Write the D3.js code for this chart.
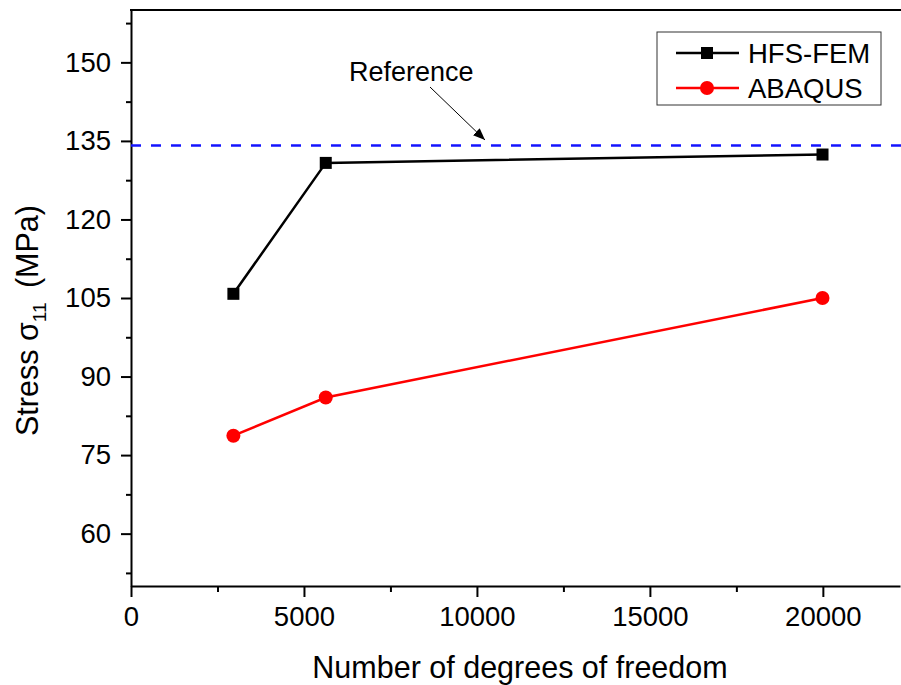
<!DOCTYPE html>
<html>
<head>
<meta charset="utf-8">
<script src="https://cdn.jsdelivr.net/npm/d3@7"></script>
<style>
  body { margin: 0; background: #fff; }
  svg { display: block; font-family: "Liberation Sans", Arial, sans-serif; }
  .axis path, .axis line { stroke: #000; stroke-width: 2; }
  .axis text { font-size: 27.5px; fill: #000; font-family: "Liberation Sans", Arial, sans-serif; }
</style>
</head>
<body>
<div id="chart"></div>
<script>
// --- data ---
const dof        = [2960, 5630, 19990];
const hfsFem     = [105.8, 130.8, 132.4];
const abaqus     = [78.7, 86.0, 105.0];
const refStress  = 134.1;
const xTicks     = [0, 5000, 10000, 15000, 20000];
const xMinor     = [2500, 7500, 12500, 17500];
const yTicks     = [60, 75, 90, 105, 120, 135, 150];
const yMinor     = [52.5, 67.5, 82.5, 97.5, 112.5, 127.5, 142.5, 157.5];

const W = 901, H = 685;
const m = {left:131, top:10, right:1, bottom:99};

const svg = d3.select("#chart").append("svg").attr("width", W).attr("height", H);

const x = d3.scaleLinear().domain([0, 22230]).range([m.left, W - m.right]);
const y = d3.scaleLinear().domain([50, 160]).range([H - m.bottom, m.top]);

/* axes */
const xAxis = svg.append("g").attr("class","axis").attr("transform",`translate(0,${H-m.bottom})`)
  .call(d3.axisBottom(x).tickValues(xTicks).tickFormat(d3.format("d"))
    .tickSize(11).tickSizeOuter(0).tickPadding(9));
xAxis.selectAll("text").attr("dy","0.71em");
svg.append("g").attr("class","axis").attr("transform",`translate(0,${H-m.bottom})`)
  .call(d3.axisBottom(x).tickValues(xMinor).tickSize(6).tickFormat("").tickSizeOuter(0))
  .select("path").remove();

svg.append("g").attr("class","axis").attr("transform",`translate(${m.left},0)`)
  .call(d3.axisLeft(y).tickValues(yTicks).tickFormat(d3.format("d"))
    .tickSize(10).tickSizeOuter(0).tickPadding(10));
svg.append("g").attr("class","axis").attr("transform",`translate(${m.left},0)`)
  .call(d3.axisLeft(y).tickValues(yMinor).tickSize(5).tickFormat("").tickSizeOuter(0))
  .select("path").remove();

/* top frame line */
svg.append("line").attr("x1", m.left - 1).attr("x2", W).attr("y1", m.top).attr("y2", m.top)
  .attr("stroke","#000").attr("stroke-width",2);

/* reference line */
svg.append("line").attr("x1", x(0)).attr("x2", W).attr("y1", y(refStress)).attr("y2", y(refStress))
  .attr("stroke","#1414ff").attr("stroke-width",2.5).attr("stroke-dasharray","10,10");

/* series */
const line = d3.line().x(d => x(d[0])).y(d => y(d[1]));
const hfsPts = dof.map((d,i) => [d, hfsFem[i]]);
const abqPts = dof.map((d,i) => [d, abaqus[i]]);

svg.append("path").datum(hfsPts).attr("d", line).attr("fill","none")
  .attr("stroke","#000").attr("stroke-width",2.5);
svg.append("path").datum(abqPts).attr("d", line).attr("fill","none")
  .attr("stroke","#ff0000").attr("stroke-width",2.5);

svg.selectAll(".sq").data(hfsPts).enter().append("rect")
  .attr("x", d => x(d[0]) - 6).attr("y", d => y(d[1]) - 6)
  .attr("width",12).attr("height",12).attr("fill","#000");
svg.selectAll(".ci").data(abqPts).enter().append("circle")
  .attr("cx", d => x(d[0])).attr("cy", d => y(d[1])).attr("r",7).attr("fill","#ff0000");

/* reference annotation */
svg.append("defs").append("marker").attr("id","arrow")
  .attr("viewBox","0 0 10 10").attr("refX",10).attr("refY",5)
  .attr("markerWidth",12).attr("markerHeight",12).attr("markerUnits","userSpaceOnUse")
  .attr("orient","auto")
  .append("path").attr("d","M0,1 L10,5 L0,9 Z").attr("fill","#000");
svg.append("line").attr("x1",430).attr("y1",87).attr("x2",485).attr("y2",140)
  .attr("stroke","#000").attr("stroke-width",1).attr("marker-end","url(#arrow)");
svg.append("text").attr("x",349).attr("y",81).attr("font-size","27px").text("Reference");

/* legend */
const lg = svg.append("g").attr("transform","translate(657,32)");
lg.append("rect").attr("width",224).attr("height",73).attr("fill","#fff")
  .attr("stroke","#333").attr("stroke-width",1);
const items = [
  {name:"HFS-FEM", color:"#000", shape:"square"},
  {name:"ABAQUS",  color:"#ff0000", shape:"circle"}
];
items.forEach((it, i) => {
  const g = lg.append("g").attr("transform",`translate(0,${21 + i*35})`);
  g.append("line").attr("x1",19).attr("x2",82).attr("stroke",it.color).attr("stroke-width",2.5);
  if (it.shape === "square")
    g.append("rect").attr("x",44).attr("y",-6).attr("width",12).attr("height",12).attr("fill",it.color);
  else
    g.append("circle").attr("cx",50).attr("r",7).attr("fill",it.color);
  g.append("text").attr("x",91).attr("dy","0.36em").attr("font-size","27.5px").text(it.name);
});

/* axis titles */
svg.append("text").attr("x",520).attr("y",678).attr("text-anchor","middle")
  .attr("font-size","30.5px").text("Number of degrees of freedom");

const yt = svg.append("text").attr("transform","translate(38,436) rotate(-90)")
  .attr("font-size","30.5px");
yt.append("tspan").text("Stress σ");
yt.append("tspan").attr("font-size","19px").attr("dy","8").text("11");
yt.append("tspan").attr("dy","-8").attr("dx","6").text(" (MPa)");
</script>
</body>
</html>
